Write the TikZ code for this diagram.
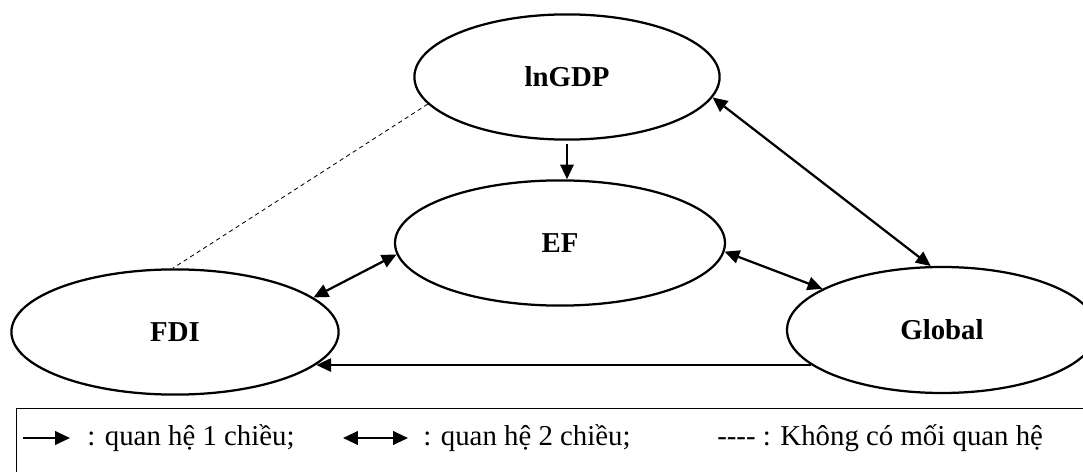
\documentclass[tikz,border=0pt]{standalone}
\usepackage{fontspec}
\setmainfont{Liberation Serif}
\usetikzlibrary{shapes.geometric, arrows.meta, positioning}

\begin{document}
\begin{tikzpicture}[
  factor/.style={draw, ellipse, line width=1.6pt, inner sep=0pt, minimum width=#1, minimum height=3.13cm, font=\fontsize{20.5}{24}\selectfont\bfseries},
  oneway/.style={-{Triangle[length=10.5pt, width=9.5pt]}, line width=1.6pt},
  twoway/.style={{Triangle[length=10.5pt, width=9.5pt]}-{Triangle[length=10.5pt, width=9.5pt]}, line width=1.6pt},
  nolink/.style={dash pattern=on 3pt off 2.5pt, line width=0.6pt},
  legtext/.style={anchor=base west, inner sep=0pt, font=\fontsize{20.5}{24}\selectfont}
]
  \useasboundingbox (0, 0) rectangle (27.075, 11.8);
  \clip (0, 0) rectangle (27.075, 11.8);

  % Variables
  \node[factor=7.63cm] (lngdp) at (14.175, 9.875) {lnGDP};
  \node[factor=8.25cm] (ef) at (14.0, 5.725) {EF};
  \node[factor=8.18cm] (fdi) at (4.375, 3.5) {FDI};
  \node[factor=7.75cm, minimum height=3.15cm] (global) at (23.55, 3.55) {Global};

  % Relations
  \draw[oneway] ([yshift=-2pt]lngdp.south) -- (lngdp.south |- ef.north);
  \draw[twoway] (lngdp.-8) -- (global.100);
  \draw[twoway] (ef.-3) -- (global.161);
  \draw[twoway] (ef.184) -- (fdi.14);
  \draw[oneway] (global.195) -- (global.195 -| fdi.-13);
  \draw[nolink] (lngdp.191) -- (fdi.92);

  % Legend
  \draw[line width=0.6pt] (27.075, 1.6) -- (0.4, 1.6) -- (0.4, 0);
  \coordinate (oa) at (0.575, 0.85);
  \coordinate (ob) at (1.75, 0.85);
  \draw[oneway] (oa) -- (ob);
  \node[legtext] (onetxt) at (2.175, 0.675) {: quan hệ 1 chiều;};
  \coordinate (ta) at (8.575, 0.85);
  \coordinate (tb) at (10.2, 0.85);
  \draw[twoway] (ta) -- (tb);
  \node[legtext] (twotxt) at (10.575, 0.675) {: quan hệ 2 chiều;};
  \node[legtext] (notxt) at (17.925, 0.675) {-{}-{}-{}- : Không có mối quan hệ};
\end{tikzpicture}
\end{document}
